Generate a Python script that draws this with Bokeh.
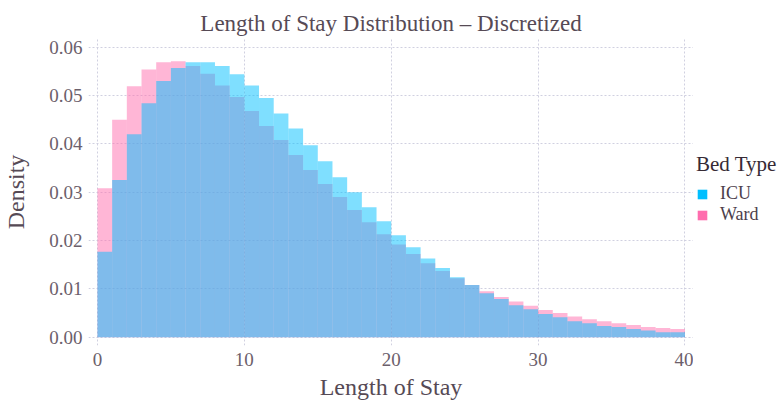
from bokeh.plotting import figure
from bokeh.layouts import row
from bokeh.models import (ColumnDataSource, Range1d, FixedTicker, PrintfTickFormatter,
                          Legend, LegendItem)
from bokeh.embed import file_html
from bokeh.resources import INLINE

# ---- data ----
bin_edges = list(range(0, 41))
icu_density = [0.0177, 0.0325, 0.0420, 0.0484, 0.0530, 0.0557, 0.0569, 0.0569, 0.0561, 0.0544,
               0.0521, 0.0495, 0.0463, 0.0432, 0.0397, 0.0364, 0.0331, 0.0300, 0.0269, 0.0240,
               0.0211, 0.0186, 0.0163, 0.0143, 0.0124, 0.0108, 0.0091, 0.0079, 0.0066, 0.0058,
               0.0048, 0.0041, 0.0033, 0.0029, 0.0023, 0.0021, 0.0017, 0.0014, 0.0010, 0.0010]
ward_density = [0.0308, 0.0450, 0.0519, 0.0554, 0.0569, 0.0571, 0.0561, 0.0545, 0.0521, 0.0497,
                0.0468, 0.0437, 0.0408, 0.0377, 0.0346, 0.0317, 0.0290, 0.0263, 0.0238, 0.0213,
                0.0192, 0.0172, 0.0153, 0.0137, 0.0122, 0.0108, 0.0095, 0.0083, 0.0074, 0.0065,
                0.0056, 0.0050, 0.0043, 0.0037, 0.0033, 0.0029, 0.0025, 0.0021, 0.0019, 0.0017]
series_names = ["ICU", "Ward"]
series_colors = ["#00BFFF", "#FF6DAE"]
x_ticks = [0, 10, 20, 30, 40]
y_ticks = [0.00, 0.01, 0.02, 0.03, 0.04, 0.05, 0.06]

FONT = "Liberation Serif"
H = 404

p = figure(width=693, height=H, output_backend="svg", toolbar_location=None,
           x_range=Range1d(-0.61, 40.58), y_range=Range1d(-0.00172, 0.0618),
           min_border_left=87, min_border_right=0, min_border_top=38, min_border_bottom=59,
           title="Length of Stay Distribution \u2013 Discretized")
p.outline_line_color = None
p.background_fill_color = "white"

p.title.align = "center"
p.title.text_font = FONT
p.title.text_font_size = "23px"
p.title.text_font_style = "normal"
p.title.text_color = "#564a55"
p.title.standoff = 5

left = bin_edges[:-1]
right = bin_edges[1:]

ward_src = ColumnDataSource(dict(left=left, right=right, top=ward_density, bottom=[0] * len(left)))
icu_src = ColumnDataSource(dict(left=left, right=right, top=icu_density, bottom=[0] * len(left)))

p.quad(left="left", right="right", top="top", bottom="bottom", source=ward_src,
       fill_color=series_colors[1], fill_alpha=0.5, line_color=None)
p.quad(left="left", right="right", top="top", bottom="bottom", source=icu_src,
       fill_color=series_colors[0], fill_alpha=0.5, line_color=None)

# axes
for ax in (p.xaxis[0], p.yaxis[0]):
    ax.axis_line_color = None
    ax.major_tick_line_color = None
    ax.minor_tick_line_color = None
    ax.major_tick_out = 0
    ax.major_tick_in = 0
    ax.minor_tick_out = 0
    ax.minor_tick_in = 0
    ax.major_label_text_font = FONT
    ax.major_label_text_font_size = "19px"
    ax.major_label_text_color = "#6c606b"
    ax.axis_label_text_font = FONT
    ax.axis_label_text_font_size = "24px"
    ax.axis_label_text_font_style = "normal"
    ax.axis_label_text_color = "#564a55"

p.xaxis.ticker = FixedTicker(ticks=x_ticks)
p.yaxis.ticker = FixedTicker(ticks=y_ticks)
p.yaxis.formatter = PrintfTickFormatter(format="%.2f")
p.xaxis.axis_label = "Length of Stay"
p.yaxis.axis_label = "Density"
p.xaxis.major_label_standoff = 7
p.xaxis.axis_label_standoff = 5
p.yaxis.major_label_standoff = 6
p.yaxis.axis_label_standoff = 17

p.xgrid.ticker = FixedTicker(ticks=x_ticks)
p.ygrid.ticker = FixedTicker(ticks=y_ticks)
for g in (p.xgrid[0], p.ygrid[0]):
    g.grid_line_color = "#D0D0E0"
    g.grid_line_dash = "2 2"
    g.grid_line_width = 1

# ---- legend panel (separate narrow figure to the right) ----
pl = figure(width=88, height=H, output_backend="svg", toolbar_location=None,
            x_range=Range1d(0, 1), y_range=Range1d(0, 1),
            x_axis_type=None, y_axis_type=None,
            min_border_left=0, min_border_right=0, min_border_top=38, min_border_bottom=59)
pl.outline_line_color = None
pl.background_fill_color = "white"

nan = float("nan")
swatches = []
for c in series_colors:
    src = ColumnDataSource(dict(left=[nan], right=[nan], top=[nan], bottom=[nan]))
    swatches.append(pl.quad(left="left", right="right", top="top", bottom="bottom", source=src,
                            fill_color=c, fill_alpha=1.0, line_color=None))

legend = Legend(items=[LegendItem(label=n, renderers=[r]) for n, r in zip(series_names, swatches)],
                location=(3, 120), title="Bed Type")
legend.title_text_font = FONT
legend.title_text_font_size = "21px"
legend.title_text_font_style = "normal"
legend.title_text_color = "#362a35"
legend.title_standoff = 6
legend.label_text_font = FONT
legend.label_text_font_size = "18px"
legend.label_text_color = "#4c404b"
legend.glyph_width = 12
legend.glyph_height = 12
legend.label_standoff = 12
legend.spacing = 0
legend.padding = 2
legend.margin = 0
legend.border_line_color = None
legend.background_fill_alpha = 0
pl.add_layout(legend, "center")

layout = row(p, pl, spacing=0)
open("out.html", "w").write(file_html(layout, INLINE))
